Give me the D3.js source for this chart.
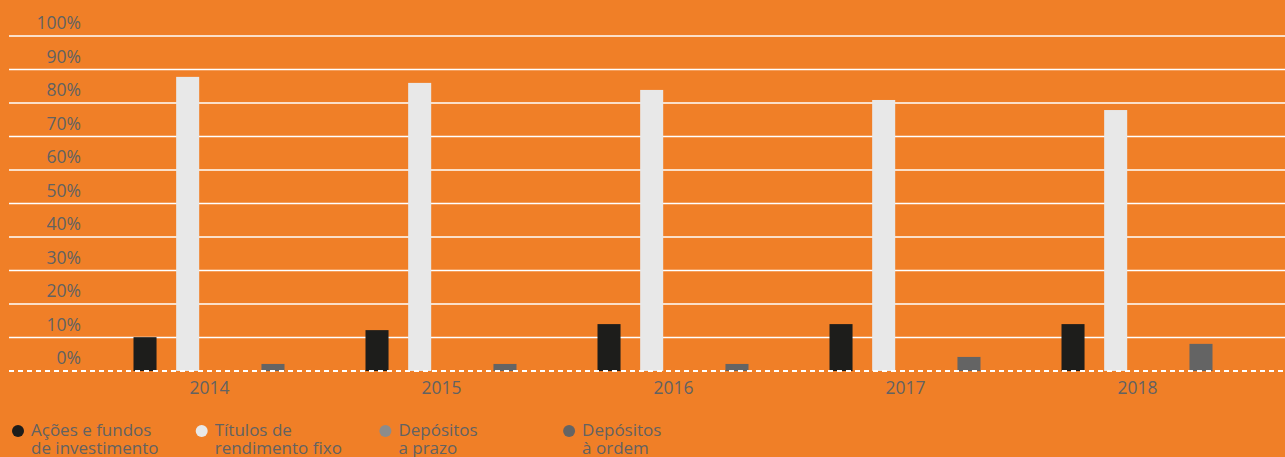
<!DOCTYPE html>
<html>
<head>
<meta charset="utf-8">
<script src="https://cdn.jsdelivr.net/npm/d3@7"></script>
<style>
  html, body { margin: 0; padding: 0; background: #f07f27; }
  svg { display: block; }
  text { font-family: "Open Sans", sans-serif; }
</style>
</head>
<body>
<svg id="chart" width="1285" height="457"></svg>
<script>
const years = ["2014", "2015", "2016", "2017", "2018"];
const acoes = [10.1, 12.2, 14.0, 14.0, 14.0];
const titulos = [87.8, 86.0, 83.9, 80.9, 77.9];
const prazo = [0, 0, 0, 0, 0];
const ordem = [2.1, 2.1, 2.1, 4.2, 8.1];
const yTicks = [0, 10, 20, 30, 40, 50, 60, 70, 80, 90, 100];
const seriesNames = ["Ações e fundos|de investimento", "Títulos de|rendimento fixo", "Depósitos|a prazo", "Depósitos|à ordem"];
const seriesColors = ["#1d1d1b", "#e8e8e8", "#8c8c8c", "#646464"];

const series = [acoes, titulos, prazo, ordem];
const svg = d3.select("#chart");
const W = 1285;

const y = d3.scaleLinear().domain([0, 100]).range([371, 36]);
const x0 = d3.scaleBand().domain(years).range([93.5, 1253.5]).padding(0);
const x1 = d3.scaleBand().domain(d3.range(series.length))
  .range([40, 191]).paddingInner(0.46).paddingOuter(0);

// gridlines
svg.append("g").selectAll("line").data(yTicks.filter(d => d > 0)).join("line")
  .attr("x1", 9).attr("x2", W)
  .attr("y1", d => y(d)).attr("y2", d => y(d))
  .attr("stroke", "#ffffff").attr("stroke-width", 1.6);

// y labels
svg.append("g").selectAll("text").data(yTicks).join("text")
  .attr("x", 81).attr("y", d => y(d) - 7)
  .attr("text-anchor", "end")
  .attr("font-size", 17.5)
  .attr("fill", "#626262")
  .text(d => d + "%");

// bars
const groups = svg.append("g").selectAll("g").data(years).join("g")
  .attr("transform", d => `translate(${x0(d)},0)`);
groups.selectAll("rect")
  .data((yr, i) => series.map((s, k) => ({ k, v: s[i] })))
  .join("rect")
  .attr("x", d => x1(d.k))
  .attr("width", x1.bandwidth())
  .attr("y", d => y(d.v))
  .attr("height", d => y(0) - y(d.v))
  .attr("fill", d => seriesColors[d.k]);

// baseline dashed
svg.append("line")
  .attr("x1", 9).attr("x2", W)
  .attr("y1", y(0)).attr("y2", y(0))
  .attr("stroke", "#ffffff").attr("stroke-width", 2)
  .attr("stroke-dasharray", "5,4");

// year labels
svg.append("g").selectAll("text").data(years).join("text")
  .attr("x", d => x0(d) + x0.bandwidth() / 2)
  .attr("y", 394)
  .attr("text-anchor", "middle")
  .attr("font-size", 17.5)
  .attr("fill", "#626262")
  .text(d => d);

// legend
const leg = svg.append("g").selectAll("g").data(seriesNames).join("g")
  .attr("transform", (d, i) => `translate(${18 + i * 183.7},0)`);
leg.append("circle").attr("cx", 0).attr("cy", 431).attr("r", 6)
  .attr("fill", (d, i) => seriesColors[i]);
const lt = leg.append("text").attr("x", 13).attr("y", 436)
  .attr("font-size", 17).attr("fill", "#626262");
lt.selectAll("tspan").data(d => d.split("|")).join("tspan")
  .attr("x", 13).attr("dy", (d, i) => i === 0 ? 0 : 18)
  .text(d => d);
</script>
</body>
</html>
